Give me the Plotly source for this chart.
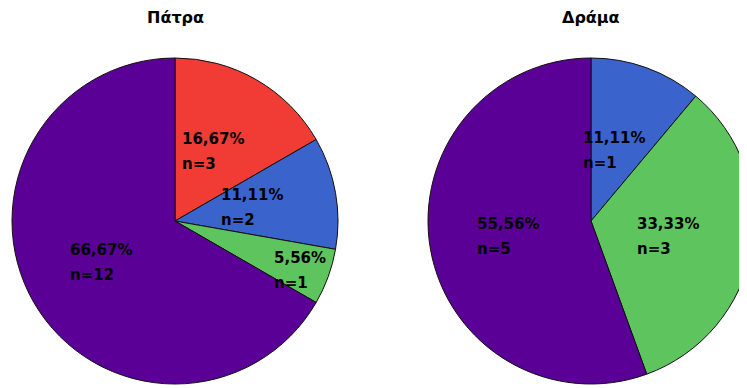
import math
import plotly.graph_objects as go

# ---- data ----
titles = ["Πάτρα", "Δράμα"]

categories_patra = ["Κόκκινο", "Μπλε", "Πράσινο", "Μωβ"]
values_patra = [3, 2, 1, 12]
colors_patra = ["#F03C34", "#3A64CC", "#5EC45E", "#5A0096"]
label_radius_patra = [0.5, 0.5, 0.87, 0.5]

categories_drama = ["Μπλε", "Πράσινο", "Μωβ"]
values_drama = [1, 3, 5]
colors_drama = ["#3A64CC", "#5EC45E", "#5A0096"]
label_radius_drama = [0.47, 0.5, 0.5]

# ---- layout (figure pixels; page body adds an 8px margin) ----
W, H = 760, 380
R = 163
centers = [(167, 213), (583, 213)]

fig = go.Figure()
LABEL_FONT = dict(family="DejaVu Sans", size=15, color="black", weight="bold")

def add_pie(labels, values, colors, radii, center, title):
    cx, cy = center
    fig.add_trace(go.Pie(
        labels=labels, values=values, sort=False, direction="clockwise", rotation=0,
        marker=dict(colors=colors, line=dict(color="#101010", width=1)),
        textinfo="none", hoverinfo="label+value+percent", showlegend=False,
        domain=dict(x=[(cx - R) / W, (cx + R) / W],
                    y=[max(0, (H - cy - R) / H), min(1, (H - cy + R) / H)]),
    ))
    total = sum(values)
    cum = 0
    for v, f in zip(values, radii):
        mid = (cum + v / 2) / total * 2 * math.pi
        cum += v
        lx = cx + f * R * math.sin(mid)
        ly = cy - f * R * math.cos(mid) + 1
        pct = f"{100 * v / total:.2f}".replace(".", ",") + "%"
        for txt, dy in ((pct, -12.5), (f"n={v}", 12.5)):
            fig.add_annotation(text=txt, x=lx / W, y=1 - ly / H, xref="paper", yref="paper",
                               xanchor="left", yanchor="middle", xshift=-36, yshift=-dy,
                               showarrow=False, font=LABEL_FONT)
    fig.add_annotation(text=title, x=cx / W, y=1 - 10 / H, xref="paper", yref="paper",
                       showarrow=False, xanchor="center", yanchor="middle",
                       font=dict(family="DejaVu Sans", size=16, color="black", weight="bold"))

add_pie(categories_patra, values_patra, colors_patra, label_radius_patra, centers[0], titles[0])
add_pie(categories_drama, values_drama, colors_drama, label_radius_drama, centers[1], titles[1])

fig.update_layout(
    width=W, height=H, margin=dict(l=0, r=0, t=0, b=0),
    paper_bgcolor="white", plot_bgcolor="white",
)
fig.write_html("out.html")
